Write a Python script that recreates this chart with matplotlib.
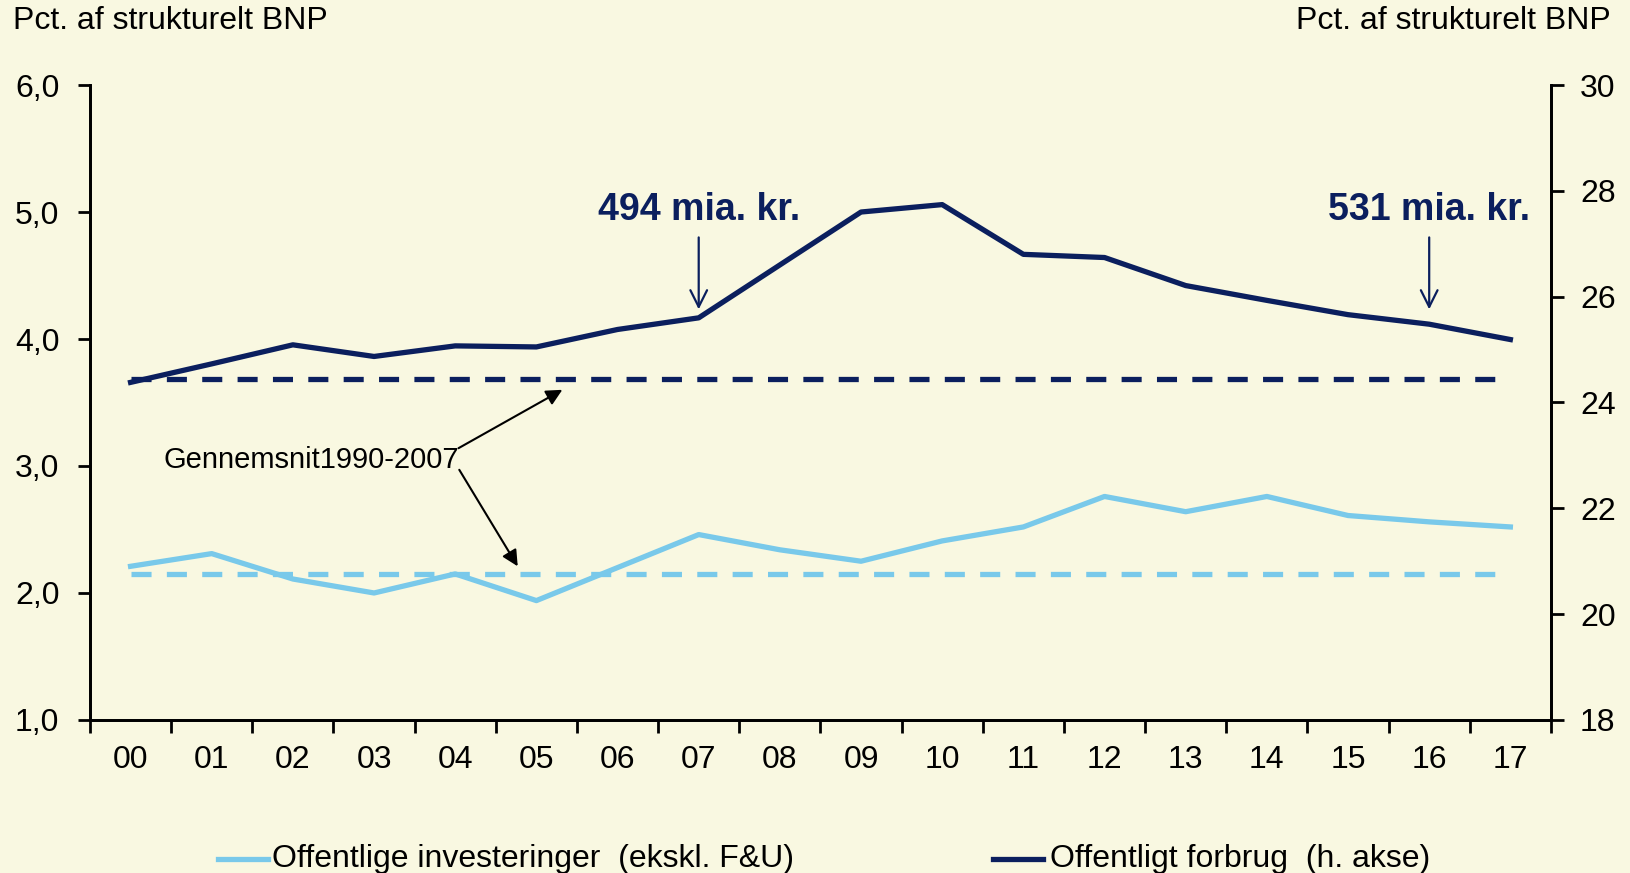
import matplotlib
matplotlib.use("Agg")
import matplotlib.pyplot as plt
from matplotlib.lines import Line2D

years = ["00", "01", "02", "03", "04", "05", "06", "07", "08",
         "09", "10", "11", "12", "13", "14", "15", "16", "17"]
investeringer = [2.21, 2.31, 2.11, 2.00, 2.15, 1.94, 2.20, 2.46, 2.34,
                 2.25, 2.41, 2.52, 2.76, 2.64, 2.76, 2.61, 2.56, 2.52]
forbrug = [24.38, 24.73, 25.09, 24.87, 25.07, 25.05, 25.38, 25.60, 26.60,
           27.60, 27.74, 26.80, 26.74, 26.21, 25.93, 25.66, 25.48, 25.19]
snit_invest = 2.15
snit_forbrug = 24.44

bg = "#F9F8E1"
navy = "#0B1F5E"
light = "#79C9EA"
sans = ["Liberation Sans", "DejaVu Sans"]
narrow = ["Liberation Sans Narrow", "Liberation Sans", "DejaVu Sans"]

plt.rcParams["font.family"] = sans

fig = plt.figure(figsize=(16.3, 8.73), dpi=100, facecolor=bg)
ax = fig.add_axes([0.0552, 0.1753, 0.8963, 0.7273], facecolor=bg)
ax2 = ax.twinx()

x = list(range(len(years)))
lw = 3.8
dash = (0, (3.8, 2.9))
ax.plot(x, investeringer, color=light, lw=lw)
ax.plot([0, 17], [snit_invest] * 2, color=light, lw=lw, ls=dash)
ax2.plot(x, forbrug, color=navy, lw=lw)
ax2.plot([0, 17], [snit_forbrug] * 2, color=navy, lw=lw, ls=dash)

ax.set_xlim(-0.5, 17.5)
ax.set_ylim(1, 6)
ax2.set_ylim(18, 30)
ax.set_yticks([1, 2, 3, 4, 5, 6])
ax.set_yticklabels(["1,0", "2,0", "3,0", "4,0", "5,0", "6,0"], fontsize=23)
ax2.set_yticks(range(18, 31, 2))
ax2.set_yticklabels([str(v) for v in range(18, 31, 2)], fontsize=23)

# ticks between the years, labels centred on the years
ax.set_xticks([i - 0.5 for i in range(len(years) + 1)])
ax.set_xticklabels([])
ax.set_xticks(x, minor=True)
ax.set_xticklabels(years, minor=True, fontsize=23, family=narrow)
ax.tick_params(axis="x", which="minor", length=0, pad=18)
ax.tick_params(axis="x", which="major", length=9, width=2, direction="out")
ax.tick_params(axis="y", length=9, width=2, pad=13)
ax2.tick_params(axis="y", length=9, width=2, pad=12)

for a in (ax, ax2):
    a.spines["top"].set_visible(False)
    for s in ("left", "right", "bottom"):
        a.spines[s].set_linewidth(2)

fig.text(0.0077, 0.976, "Pct. af strukturelt BNP", fontsize=23, va="center", ha="left")
fig.text(0.988, 0.976, "Pct. af strukturelt BNP", fontsize=23, va="center", ha="right")

# amounts over 2007 and 2016
for i, label in [(7, "494 mia. kr."), (16, "531 mia. kr.")]:
    ax2.text(i, 27.64, label, ha="center", va="center", fontsize=27,
             fontweight="bold", color=navy)
    ax2.annotate("", xy=(i, 25.76), xytext=(i, 27.12),
                 arrowprops=dict(arrowstyle="->", color=navy, lw=1.6,
                                 mutation_scale=30, shrinkA=0, shrinkB=0))

ax.text(0.40, 3.05, "Gennemsnit1990-2007", fontsize=21, ha="left", va="center")
ax.annotate("", xy=(5.32, 3.60), xytext=(4.04, 3.14),
            arrowprops=dict(arrowstyle="-|>", color="black", lw=1.5, mutation_scale=24,
                            shrinkA=0, shrinkB=0))
ax.annotate("", xy=(4.77, 2.21), xytext=(4.05, 2.97),
            arrowprops=dict(arrowstyle="-|>", color="black", lw=1.5, mutation_scale=24,
                            shrinkA=0, shrinkB=0))

# legend drawn by hand at the bottom
ly = 0.016
fig.add_artist(Line2D([0.1338, 0.1644], [ly, ly], color=light, lw=lw, transform=fig.transFigure))
fig.text(0.1669, ly, "Offentlige investeringer  (ekskl. F&U)", fontsize=23,
         family=narrow, va="center", ha="left")
fig.add_artist(Line2D([0.609, 0.640], [ly, ly], color=navy, lw=lw, transform=fig.transFigure))
fig.text(0.644, ly, "Offentligt forbrug  (h. akse)", fontsize=23,
         family=narrow, va="center", ha="left")

fig.savefig("out.png", dpi=100, facecolor=bg)
